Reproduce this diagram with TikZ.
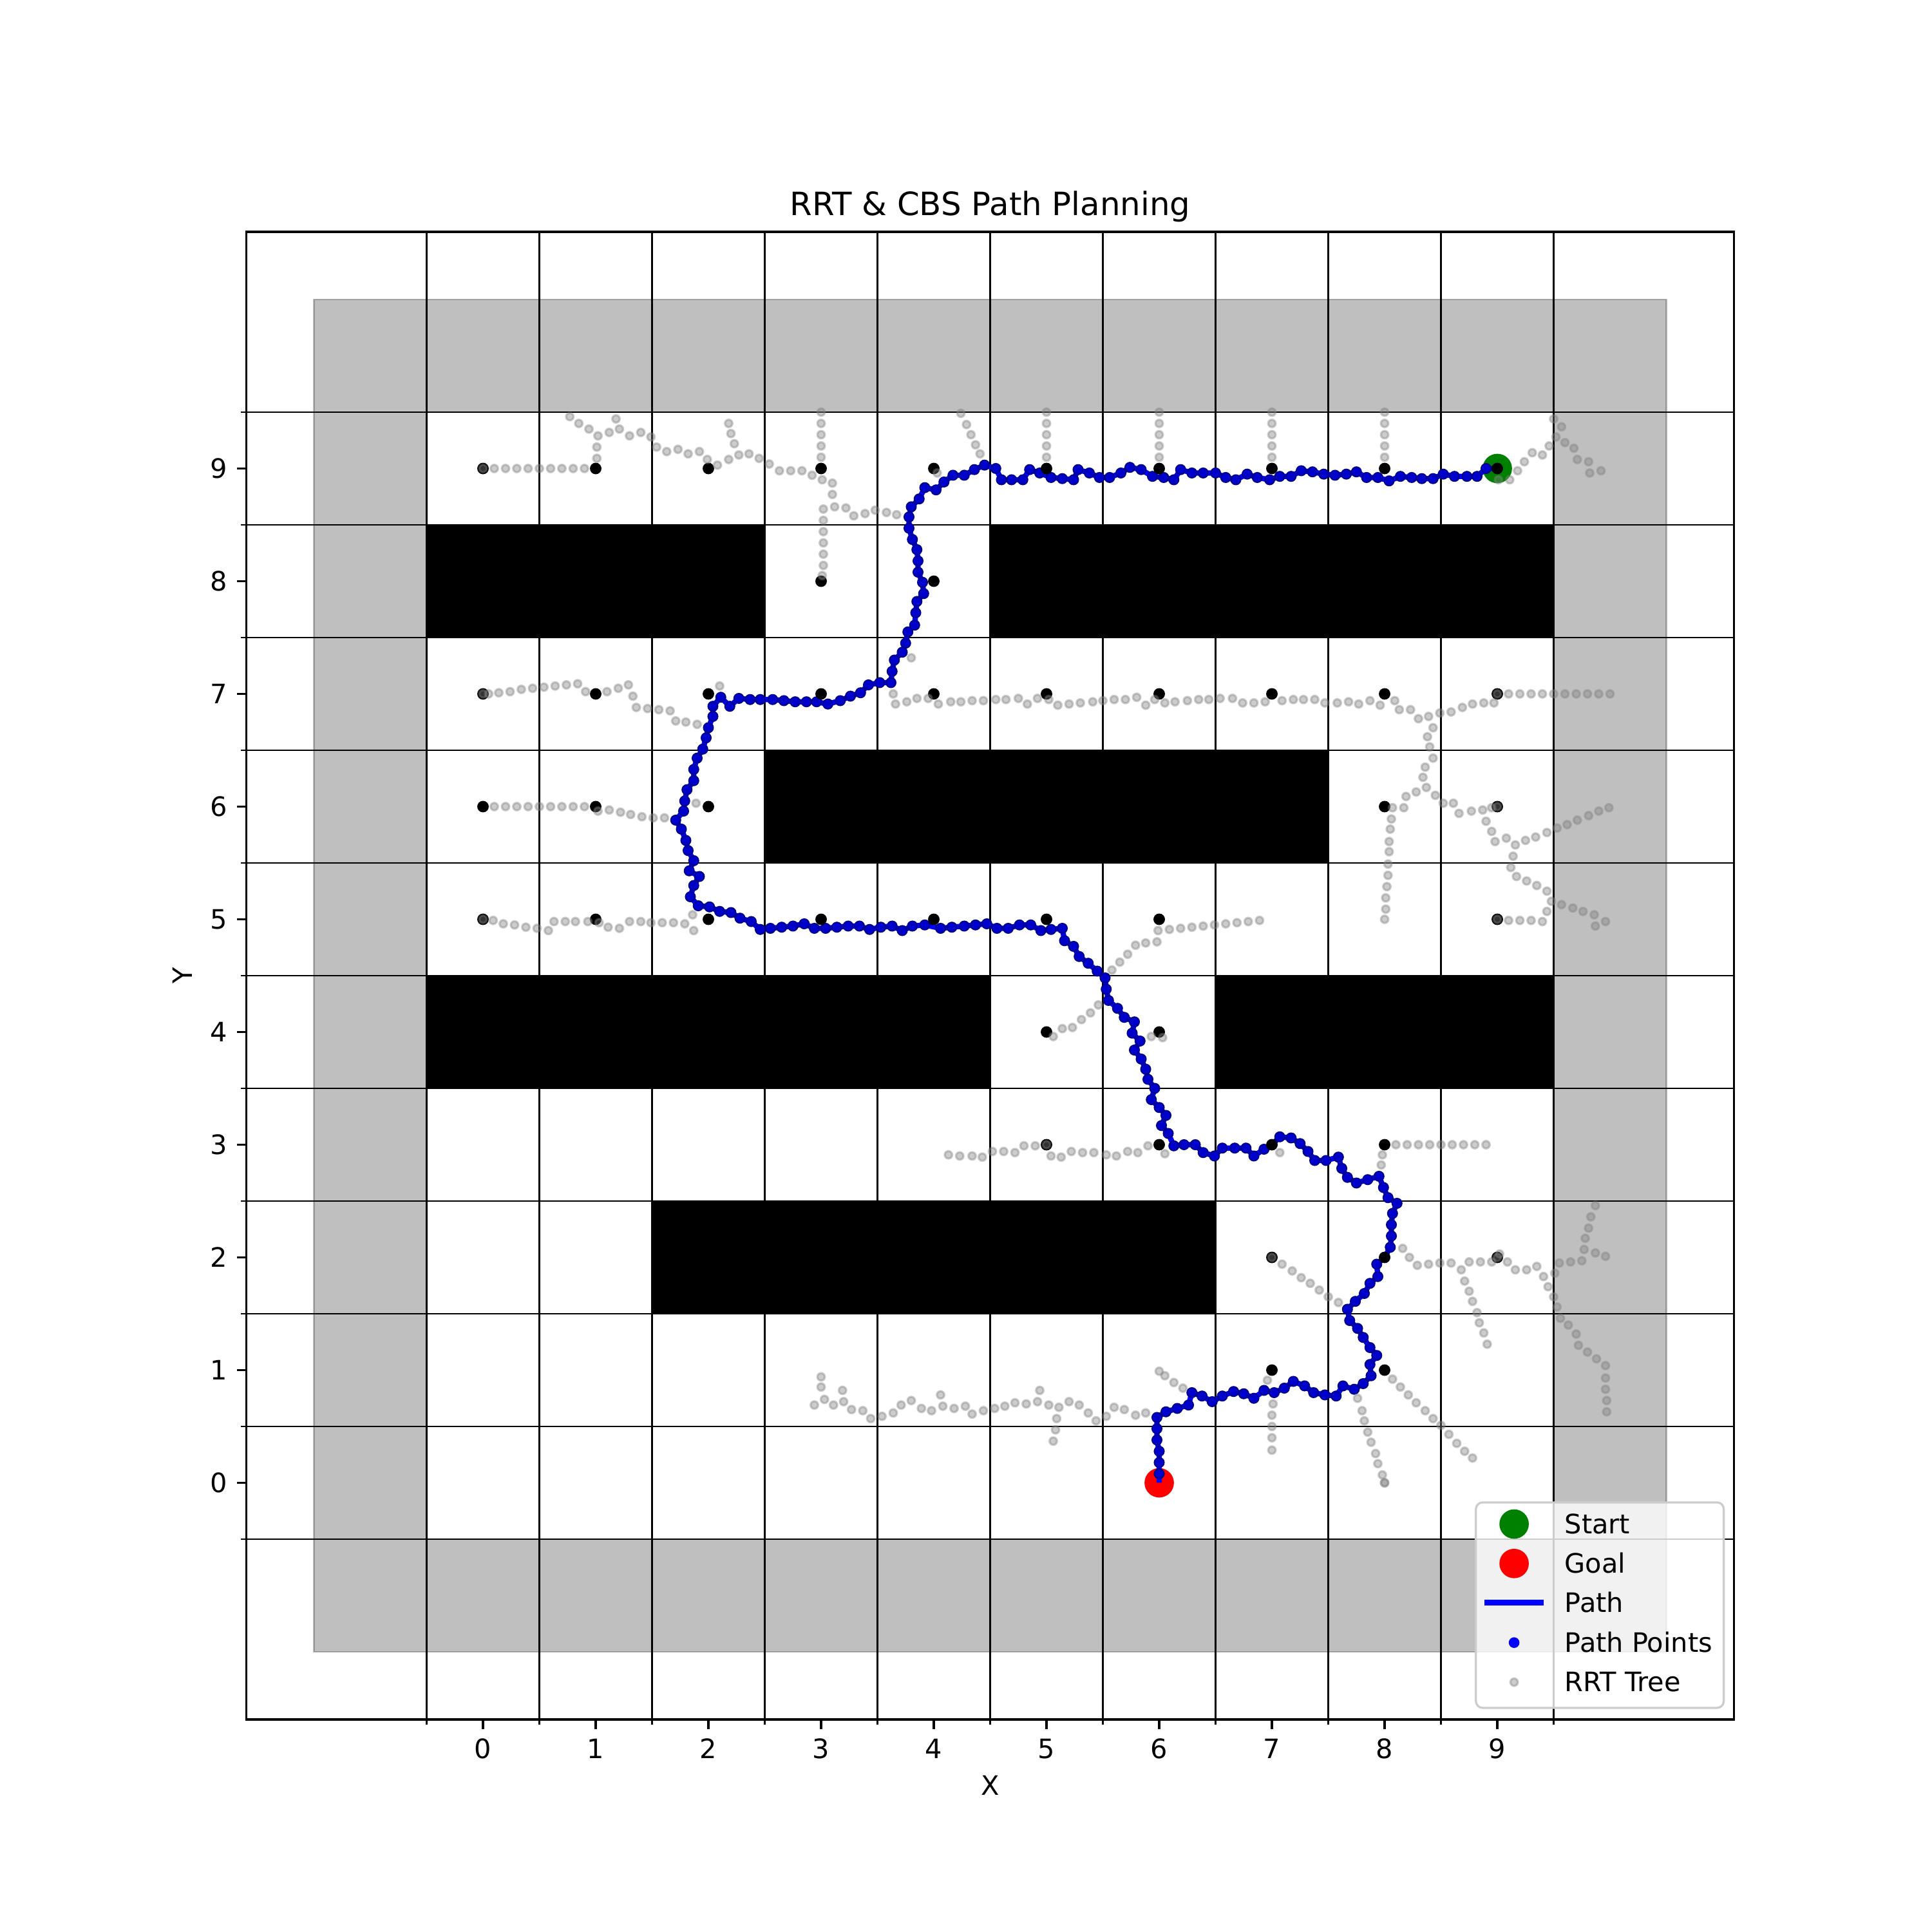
\documentclass[tikz,border=0pt]{standalone}
\usepackage{fontspec}
\setmainfont{DejaVu Sans}
\begin{document}
\begin{tikzpicture}[x=1.481667cm, y=1.481667cm]
\definecolor{pathfill}{RGB}{0,0,205}
\definecolor{pathedge}{RGB}{0,0,140}
\definecolor{startgreen}{RGB}{0,128,0}
\tikzset{
  treedot/.style={fill=gray, draw=gray, fill opacity=0.4, draw opacity=0.4, line width=0.8pt},
  gridline/.style={black, line width=0.5pt},
  obstacle/.style={fill=black},
  ticklab/.style={font=\fontsize{10}{12}\selectfont, inner sep=0pt},
  leglab/.style={font=\fontsize{10}{12}\selectfont, inner sep=0pt, anchor=base west},
}
\useasboundingbox (-4.285714,-3.985714) rectangle (12.857143,13.157143);
% boundary frame
\fill[black, fill opacity=0.25, even odd rule] (-1.5,-1.5) rectangle (10.5,10.5) (-0.5,-0.5) rectangle (9.5,9.5);
\draw[black, draw opacity=0.25, line width=0.5pt] (-1.5,-1.5) rectangle (10.5,10.5);
% grid
\foreach \v in {-0.5,0.5,...,9.5} {
  \draw[gridline] (\v,-2.1) -- (\v,11.1);
  \draw[gridline] (-2.1,\v) -- (11.1,\v);
}
% obstacles
\fill[obstacle] (-0.5,7.5) rectangle (2.5,8.5);
\fill[obstacle] (4.5,7.5) rectangle (9.5,8.5);
\fill[obstacle] (2.5,5.5) rectangle (7.5,6.5);
\fill[obstacle] (-0.5,3.5) rectangle (4.5,4.5);
\fill[obstacle] (6.5,3.5) rectangle (9.5,4.5);
\fill[obstacle] (1.5,1.5) rectangle (6.5,2.5);
% start / goal
\fill[startgreen] (9,9) circle (5.5pt);
\fill[red] (6,0) circle (5.5pt);
% path
\draw[blue, line width=2pt, line join=round] plot coordinates {
(9,9) (8.90,9.00) (8.82,8.93) (8.73,8.93) (8.62,8.93) (8.52,8.95) (8.43,8.91) (8.33,8.91) (8.24,8.92) (8.14,8.93) (8.04,8.89) (7.94,8.92) (7.84,8.92) (7.75,8.97) (7.66,8.95) (7.56,8.94) (7.46,8.95) (7.36,8.97) (7.26,8.98) (7.17,8.93) (7.07,8.93) (6.98,8.90) (6.87,8.92) (6.78,8.95) (6.68,8.90) (6.59,8.92) (6.50,8.96) (6.39,8.96) (6.29,8.96) (6.19,8.99) (6.13,8.90) (6.04,8.92) (5.94,8.93) (5.84,8.99) (5.74,9.01) (5.66,8.96) (5.56,8.92) (5.47,8.92) (5.38,8.96) (5.28,8.99) (5.24,8.90) (5.14,8.91) (5.04,8.92) (4.94,8.96) (4.85,8.99) (4.79,8.90) (4.69,8.90) (4.60,8.90) (4.55,9.00) (4.45,9.03) (4.36,8.99) (4.27,8.94) (4.17,8.94) (4.09,8.88) (4.02,8.81) (3.92,8.83) (3.87,8.73) (3.80,8.66) (3.78,8.57) (3.78,8.47) (3.81,8.37) (3.85,8.28) (3.86,8.18) (3.86,8.08) (3.90,7.99) (3.91,7.89) (3.85,7.82) (3.84,7.72) (3.83,7.61) (3.77,7.55) (3.75,7.45) (3.72,7.37) (3.65,7.30) (3.63,7.20) (3.62,7.10) (3.52,7.10) (3.42,7.08) (3.35,7.01) (3.26,6.98) (3.17,6.94) (3.06,6.91) (2.96,6.93) (2.87,6.93) (2.77,6.93) (2.67,6.94) (2.57,6.95) (2.46,6.95) (2.37,6.95) (2.27,6.96) (2.19,6.89) (2.11,6.97) (2.04,6.89) (2.04,6.80) (2.00,6.70) (1.98,6.61) (1.95,6.51) (1.90,6.43) (1.87,6.33) (1.87,6.23) (1.81,6.15) (1.79,6.05) (1.78,5.96) (1.71,5.88) (1.76,5.80) (1.80,5.70) (1.82,5.61) (1.87,5.52) (1.83,5.43) (1.92,5.38) (1.87,5.30) (1.84,5.20) (1.91,5.12) (2.01,5.11) (2.10,5.07) (2.20,5.06) (2.28,5.01) (2.38,4.98) (2.46,4.91) (2.55,4.92) (2.65,4.93) (2.75,4.94) (2.85,4.96) (2.94,4.92) (3.04,4.92) (3.14,4.93) (3.24,4.94) (3.34,4.94) (3.43,4.91) (3.53,4.93) (3.63,4.94) (3.72,4.90) (3.81,4.94) (3.92,4.95) (4.06,4.92) (4.16,4.93) (4.27,4.94) (4.37,4.95) (4.47,4.96) (4.56,4.92) (4.66,4.92) (4.76,4.95) (4.86,4.95) (4.95,4.90) (5.04,4.91) (5.14,4.92) (5.16,4.81) (5.24,4.76) (5.29,4.67) (5.37,4.61) (5.45,4.54) (5.52,4.48) (5.53,4.38) (5.55,4.28) (5.63,4.21) (5.69,4.13) (5.78,4.09) (5.76,3.99) (5.83,3.92) (5.78,3.84) (5.84,3.76) (5.88,3.67) (5.90,3.58) (5.96,3.50) (5.93,3.40) (6.00,3.33) (6.06,3.26) (6.02,3.17) (6.08,3.10) (6.13,2.99) (6.22,3.00) (6.32,3.00) (6.39,2.93) (6.49,2.90) (6.56,2.97) (6.67,2.97) (6.77,2.97) (6.84,2.90) (6.93,2.96) (7.00,3.00) (7.07,3.07) (7.17,3.06) (7.25,3.01) (7.32,2.94) (7.38,2.86) (7.48,2.86) (7.59,2.89) (7.62,2.79) (7.67,2.71) (7.75,2.66) (7.85,2.69) (7.95,2.72) (7.99,2.62) (8.03,2.53) (8.11,2.48) (8.07,2.39) (8.06,2.29) (8.06,2.19) (8.05,2.09) (8.00,2.00) (7.93,1.94) (7.94,1.83) (7.87,1.77) (7.82,1.68) (7.74,1.61) (7.67,1.54) (7.69,1.44) (7.76,1.37) (7.81,1.29) (7.87,1.20) (7.93,1.13) (7.87,1.05) (7.88,0.95) (7.81,0.88) (7.73,0.83) (7.63,0.86) (7.57,0.77) (7.47,0.78) (7.37,0.80) (7.29,0.86) (7.19,0.90) (7.11,0.84) (7.02,0.80) (6.93,0.82) (6.84,0.75) (6.75,0.79) (6.66,0.81) (6.56,0.77) (6.47,0.72) (6.38,0.77) (6.29,0.80) (6.26,0.69) (6.16,0.66) (6.06,0.63) (5.98,0.58) (5.98,0.48) (5.98,0.38) (6.00,0.28) (6.00,0.18) (6.00,0.08) (6,0)
};
\path plot[only marks, mark=*, mark size=1.8pt, mark options={fill=pathfill, draw=pathedge, line width=0.5pt}] coordinates {
(9,9) (8.90,9.00) (8.82,8.93) (8.73,8.93) (8.62,8.93) (8.52,8.95) (8.43,8.91) (8.33,8.91) (8.24,8.92) (8.14,8.93) (8.04,8.89) (7.94,8.92) (7.84,8.92) (7.75,8.97) (7.66,8.95) (7.56,8.94) (7.46,8.95) (7.36,8.97) (7.26,8.98) (7.17,8.93) (7.07,8.93) (6.98,8.90) (6.87,8.92) (6.78,8.95) (6.68,8.90) (6.59,8.92) (6.50,8.96) (6.39,8.96) (6.29,8.96) (6.19,8.99) (6.13,8.90) (6.04,8.92) (5.94,8.93) (5.84,8.99) (5.74,9.01) (5.66,8.96) (5.56,8.92) (5.47,8.92) (5.38,8.96) (5.28,8.99) (5.24,8.90) (5.14,8.91) (5.04,8.92) (4.94,8.96) (4.85,8.99) (4.79,8.90) (4.69,8.90) (4.60,8.90) (4.55,9.00) (4.45,9.03) (4.36,8.99) (4.27,8.94) (4.17,8.94) (4.09,8.88) (4.02,8.81) (3.92,8.83) (3.87,8.73) (3.80,8.66) (3.78,8.57) (3.78,8.47) (3.81,8.37) (3.85,8.28) (3.86,8.18) (3.86,8.08) (3.90,7.99) (3.91,7.89) (3.85,7.82) (3.84,7.72) (3.83,7.61) (3.77,7.55) (3.75,7.45) (3.72,7.37) (3.65,7.30) (3.63,7.20) (3.62,7.10) (3.52,7.10) (3.42,7.08) (3.35,7.01) (3.26,6.98) (3.17,6.94) (3.06,6.91) (2.96,6.93) (2.87,6.93) (2.77,6.93) (2.67,6.94) (2.57,6.95) (2.46,6.95) (2.37,6.95) (2.27,6.96) (2.19,6.89) (2.11,6.97) (2.04,6.89) (2.04,6.80) (2.00,6.70) (1.98,6.61) (1.95,6.51) (1.90,6.43) (1.87,6.33) (1.87,6.23) (1.81,6.15) (1.79,6.05) (1.78,5.96) (1.71,5.88) (1.76,5.80) (1.80,5.70) (1.82,5.61) (1.87,5.52) (1.83,5.43) (1.92,5.38) (1.87,5.30) (1.84,5.20) (1.91,5.12) (2.01,5.11) (2.10,5.07) (2.20,5.06) (2.28,5.01) (2.38,4.98) (2.46,4.91) (2.55,4.92) (2.65,4.93) (2.75,4.94) (2.85,4.96) (2.94,4.92) (3.04,4.92) (3.14,4.93) (3.24,4.94) (3.34,4.94) (3.43,4.91) (3.53,4.93) (3.63,4.94) (3.72,4.90) (3.81,4.94) (3.92,4.95) (4.06,4.92) (4.16,4.93) (4.27,4.94) (4.37,4.95) (4.47,4.96) (4.56,4.92) (4.66,4.92) (4.76,4.95) (4.86,4.95) (4.95,4.90) (5.04,4.91) (5.14,4.92) (5.16,4.81) (5.24,4.76) (5.29,4.67) (5.37,4.61) (5.45,4.54) (5.52,4.48) (5.53,4.38) (5.55,4.28) (5.63,4.21) (5.69,4.13) (5.78,4.09) (5.76,3.99) (5.83,3.92) (5.78,3.84) (5.84,3.76) (5.88,3.67) (5.90,3.58) (5.96,3.50) (5.93,3.40) (6.00,3.33) (6.06,3.26) (6.02,3.17) (6.08,3.10) (6.13,2.99) (6.22,3.00) (6.32,3.00) (6.39,2.93) (6.49,2.90) (6.56,2.97) (6.67,2.97) (6.77,2.97) (6.84,2.90) (6.93,2.96) (7.00,3.00) (7.07,3.07) (7.17,3.06) (7.25,3.01) (7.32,2.94) (7.38,2.86) (7.48,2.86) (7.59,2.89) (7.62,2.79) (7.67,2.71) (7.75,2.66) (7.85,2.69) (7.95,2.72) (7.99,2.62) (8.03,2.53) (8.11,2.48) (8.07,2.39) (8.06,2.29) (8.06,2.19) (8.05,2.09) (8.00,2.00) (7.93,1.94) (7.94,1.83) (7.87,1.77) (7.82,1.68) (7.74,1.61) (7.67,1.54) (7.69,1.44) (7.76,1.37) (7.81,1.29) (7.87,1.20) (7.93,1.13) (7.87,1.05) (7.88,0.95) (7.81,0.88) (7.73,0.83) (7.63,0.86) (7.57,0.77) (7.47,0.78) (7.37,0.80) (7.29,0.86) (7.19,0.90) (7.11,0.84) (7.02,0.80) (6.93,0.82) (6.84,0.75) (6.75,0.79) (6.66,0.81) (6.56,0.77) (6.47,0.72) (6.38,0.77) (6.29,0.80) (6.26,0.69) (6.16,0.66) (6.06,0.63) (5.98,0.58) (5.98,0.48) (5.98,0.38) (6.00,0.28) (6.00,0.18) (6.00,0.08)
};
% black sample points
\path plot[only marks, mark=*, mark size=1.95pt, mark options={fill=black, draw=none}] coordinates {
(0,9) (1,9) (2,9) (3,9) (4,9) (5,9) (6,9) (7,9) (8,9) (9,9)
(3,8) (4,8)
(0,7) (1,7) (2,7) (3,7) (4,7) (5,7) (6,7) (7,7) (8,7) (9,7)
(0,6) (1,6) (2,6) (8,6) (9,6)
(0,5) (1,5) (2,5) (3,5) (4,5) (5,5) (6,5) (9,5)
(5,4) (6,4)
(5,3) (6,3) (7,3) (8,3)
(7,2) (8,2) (9,2)
(7,1) (8,1)
};
% RRT tree points
\foreach \k in {1,...,9} {
  \path[treedot] ({\k/10},9) circle (1.4pt);
  \path[treedot] ({\k/10},6) circle (1.4pt);
  \path[treedot] ({9+\k/10},7) circle (1.4pt);
  \path[treedot] ({8+\k/10},3) circle (1.4pt);
}
\path[treedot] (10,7) circle (1.4pt);
\foreach \cx in {3,5,6,7,8} {
  \foreach \k in {1,...,5} {
    \path[treedot] (\cx,{9+\k/10}) circle (1.4pt);
  }
}
\path plot[only marks, mark=*, mark size=1.4pt, mark options={treedot}] coordinates {
(0,9) (0,7) (0,5) (9,7) (9,6) (9,5) (5,3) (7,2) (9,2) (8,0) (8,0)
(1.01,9.09) (1.01,9.19) (1.02,9.29) (0.94,9.35) (0.85,9.40) (0.77,9.46) (1.12,9.32) (1.21,9.35) (1.18,9.44) (1.30,9.29) (1.40,9.32) (1.49,9.28) (1.54,9.19) (1.63,9.15) (1.73,9.17) (1.82,9.13) (1.92,9.15) (1.99,9.08) (2.08,9.03)
(2.18,9.08) (2.27,9.12) (2.23,9.22) (2.20,9.31) (2.18,9.40) (2.36,9.13) (2.45,9.09) (2.54,9.04) (2.63,8.98) (2.73,8.98) (2.83,8.98) (2.92,8.94) (3.01,8.90) (3.10,8.87) (3.10,8.77) (3.12,8.66) (3.22,8.65) (3.29,8.58) (3.39,8.60) (3.48,8.63) (3.58,8.61) (3.67,8.59)
(3.02,8.64) (3.02,8.54) (3.02,8.44) (3.02,8.34) (3.02,8.24) (3.02,8.14) (3.01,8.05)
(4.03,8.96) (4.24,9.49) (4.29,9.39) (4.33,9.30) (4.37,9.21) (4.41,9.13) (3.80,7.32)
(9.01,8.90) (9.11,8.90) (9.18,8.98) (9.24,9.06) (9.31,9.14) (9.40,9.12) (9.46,9.20) (9.52,9.28) (9.50,9.44) (9.57,9.37) (9.60,9.23) (9.68,9.18) (9.71,9.08) (9.81,9.06) (9.82,8.96) (9.92,8.98)
(0.05,7.00) (0.14,7.01) (0.24,7.02) (0.34,7.04) (0.44,7.05) (0.54,7.06) (0.64,7.07) (0.74,7.08) (0.84,7.09) (0.91,7.02) (1.10,7.02) (1.20,7.05) (1.29,7.08) (1.33,6.98) (1.36,6.88) (1.46,6.87) (1.56,6.86) (1.66,6.85) (1.71,6.76) (1.80,6.75) (1.90,6.73) (2.10,7.07)
(3.64,7.00) (3.66,6.91) (3.76,6.93) (3.85,6.96) (3.95,6.96) (4.04,6.91) (4.15,6.93) (4.24,6.93) (4.34,6.94) (4.44,6.94) (4.55,6.95) (4.64,6.95) (4.75,6.96) (4.83,6.91) (4.92,6.96) (5.02,6.95) (5.10,6.90) (5.20,6.91) (5.30,6.92) (5.41,6.93) (5.50,6.94) (5.60,6.95) (5.70,6.95) (5.80,6.97) (5.88,6.90) (5.96,6.95) (6.05,6.92) (6.14,6.93) (6.25,6.94) (6.35,6.95) (6.44,6.95) (6.54,6.96) (6.65,6.96) (6.74,6.92) (6.84,6.92) (6.94,6.93) (7.09,6.94) (7.19,6.95) (7.28,6.95) (7.38,6.95) (7.47,6.92) (7.58,6.92) (7.68,6.93) (7.77,6.91) (7.87,6.94) (7.96,6.90) (8.09,6.94) (8.13,6.86) (8.23,6.86) (8.30,6.78) (8.39,6.80) (8.49,6.83) (8.59,6.84) (8.69,6.88) (8.78,6.91) (8.88,6.92) (8.97,6.92)
(8.43,6.70) (8.38,6.62) (8.40,6.53) (8.43,6.43) (8.36,6.35) (8.34,6.26) (8.37,6.17) (8.45,6.10) (8.52,6.03) (8.61,6.03) (8.66,5.94) (8.77,5.96) (8.87,5.97) (8.95,5.99) (8.28,6.13) (8.19,6.09) (8.17,5.99) (8.07,5.99)
(8.06,5.89) (8.05,5.80) (8.04,5.69) (8.04,5.60) (8.03,5.49) (8.03,5.39) (8.02,5.29) (8.01,5.19) (8.01,5.09) (8.00,5.00)
(8.90,5.87) (8.95,5.78) (8.98,5.69) (9.08,5.72) (9.16,5.66) (9.25,5.70) (9.34,5.73) (9.44,5.77) (9.53,5.81) (9.62,5.84) (9.71,5.88) (9.81,5.92) (9.90,5.96) (9.99,5.99) (9.14,5.56) (9.12,5.46) (9.17,5.38) (9.26,5.34) (9.35,5.30) (9.44,5.25) (9.48,5.16) (9.57,5.13) (9.67,5.10) (9.76,5.07) (9.86,5.04) (9.87,4.94) (9.96,4.98) (9.44,5.07) (9.40,4.98) (9.30,4.99) (9.20,4.99) (9.10,4.99)
(1.02,5.96) (1.12,5.97) (1.22,5.95) (1.31,5.93) (1.41,5.91) (1.51,5.90) (1.61,5.90) (1.89,6.03)
(0.09,4.99) (0.18,4.96) (0.28,4.95) (0.38,4.93) (0.48,4.92) (0.58,4.90) (0.63,4.98) (0.73,4.98) (0.82,4.98) (0.93,4.98) (1.03,4.97) (1.11,4.93) (1.21,4.92) (1.30,4.98) (1.40,4.98) (1.49,4.97) (1.59,4.97) (1.69,4.97) (1.79,4.96) (1.86,5.04) (1.87,4.90)
(5.99,4.90) (6.09,4.91) (6.19,4.92) (6.29,4.93) (6.39,4.94) (6.49,4.95) (6.59,4.96) (6.69,4.97) (6.79,4.98) (6.89,4.99)
(5.98,4.80) (5.88,4.79) (5.79,4.77) (5.72,4.69) (5.65,4.62) (5.58,4.55) (5.46,4.24) (5.39,4.17) (5.31,4.11) (5.23,4.04) (5.14,4.03) (5.06,3.96) (5.93,3.96) (6.03,3.95)
(4.13,2.91) (4.23,2.90) (4.34,2.90) (4.43,2.89) (4.52,2.94) (4.62,2.94) (4.72,2.93) (4.80,2.99) (4.90,2.99) (5.04,2.90) (5.13,2.89) (5.22,2.94) (5.32,2.93) (5.42,2.93) (5.53,2.91) (5.62,2.90) (5.72,2.94) (5.81,2.93) (5.90,2.99) (6.05,2.92)
(7.07,2.93) (7.98,2.91) (7.97,2.82)
(7.09,1.94) (7.18,1.88) (7.26,1.82) (7.34,1.77) (7.42,1.71) (7.50,1.65) (7.59,1.60)
(8.16,2.08) (8.22,2.00) (8.29,1.93) (8.39,1.94) (8.49,1.95) (8.59,1.95) (8.68,1.89) (8.71,1.79) (8.75,1.70) (8.78,1.61) (8.82,1.51) (8.84,1.42) (8.88,1.33) (8.91,1.23) (8.75,1.96) (8.85,1.96) (8.95,1.96)
(9.02,2.03) (9.09,1.96) (9.16,1.89) (9.26,1.89) (9.35,1.92) (9.41,1.83) (9.45,1.74) (9.50,1.65) (9.53,1.56) (9.56,1.46) (9.63,1.40) (9.70,1.32) (9.72,1.22) (9.80,1.16) (9.88,1.10) (9.96,1.04) (9.96,0.93) (9.96,0.83) (9.97,0.73) (9.97,0.63) (9.51,1.86) (9.55,1.95) (9.65,1.96) (9.75,1.97) (9.77,2.07) (9.87,2.04) (9.96,2.01) (9.78,2.17) (9.81,2.26) (9.83,2.36) (9.87,2.46)
(8.07,0.92) (8.14,0.85) (8.21,0.78) (8.28,0.71) (8.36,0.64) (8.43,0.57) (8.50,0.51) (8.57,0.43) (8.64,0.35) (8.71,0.28) (8.78,0.22)
(6.96,0.91) (7.01,0.70) (7.00,0.60) (7.00,0.50) (7.00,0.40) (7.00,0.29)
(7.76,0.75) (7.80,0.64) (7.82,0.55) (7.85,0.45) (7.88,0.36) (7.92,0.26) (7.94,0.17) (7.98,0.07)
(2.94,0.69) (3.03,0.74) (3.00,0.85) (3.00,0.94) (3.11,0.69) (3.20,0.72) (3.19,0.82) (3.27,0.65) (3.37,0.64) (3.44,0.57) (3.54,0.59) (3.64,0.62) (3.71,0.69) (3.80,0.73) (3.89,0.66) (3.98,0.64) (4.08,0.68) (4.06,0.78) (4.18,0.66) (4.28,0.68) (4.34,0.61) (4.44,0.64) (4.54,0.66) (4.63,0.68) (4.72,0.71) (4.82,0.70) (4.92,0.72) (4.94,0.82) (5.02,0.69) (5.11,0.67) (5.09,0.57) (5.08,0.47) (5.06,0.37) (5.20,0.72) (5.29,0.69) (5.37,0.62) (5.44,0.55) (5.53,0.59) (5.60,0.67) (5.69,0.65) (5.79,0.60) (5.88,0.62) (6.00,0.99) (6.05,0.95) (6.13,0.89) (6.21,0.84)
};
% axes frame and ticks
\draw[black, line width=0.8pt] (-2.1,-2.1) rectangle (11.1,11.1);
\foreach \i in {0,...,9} {
  \draw[line width=0.8pt] (\i,-2.1) -- ++(0,-3.5pt);
  \draw[line width=0.8pt] (-2.1,\i) -- ++(-3.5pt,0);
  \node[ticklab, anchor=north] (xt\i) at ([yshift=-7pt]\i,-2.1) {\i};
  \node[ticklab, anchor=east] (yt\i) at ([xshift=-7pt]-2.1,\i) {\i};
}
\foreach \v in {-0.5,0.5,...,9.5} {
  \draw[line width=0.6pt] (\v,-2.1) -- ++(0,-2pt);
  \draw[line width=0.6pt] (-2.1,\v) -- ++(-2pt,0);
}
\node[font=\fontsize{10}{12}\selectfont, inner sep=0pt] (xlabel) at (4.5,-2.685) {X};
\node[font=\fontsize{10}{12}\selectfont, inner sep=0pt, rotate=90] (ylabel) at (-2.667,4.5) {Y};
\node[font=\fontsize{12}{14}\selectfont, inner sep=0pt, anchor=base] (title) at (4.5,11.243) {RRT \& CBS Path Planning};
% legend
\draw[rounded corners=2.5pt, draw=black!20, fill=white, fill opacity=0.8, line width=0.8pt] (8.810,-1.997) rectangle (11.009,-0.174);
\fill[startgreen] (9.149,-0.366) circle (5.5pt);
\fill[red] (9.149,-0.716) circle (5.5pt);
\draw[blue, line width=2pt] (8.888,-1.063) -- (9.413,-1.063);
\fill[blue] (9.149,-1.418) circle (2pt);
\path[treedot] (9.149,-1.769) circle (1.4pt);
\node[leglab] (lstart) at (9.594,-0.449) {Start};
\node[leglab] (lgoal) at (9.594,-0.799) {Goal};
\node[leglab] (lpath) at (9.594,-1.146) {Path};
\node[leglab] (lpts) at (9.594,-1.501) {Path Points};
\node[leglab] (ltree) at (9.594,-1.852) {RRT Tree};
\end{tikzpicture}
\end{document}
